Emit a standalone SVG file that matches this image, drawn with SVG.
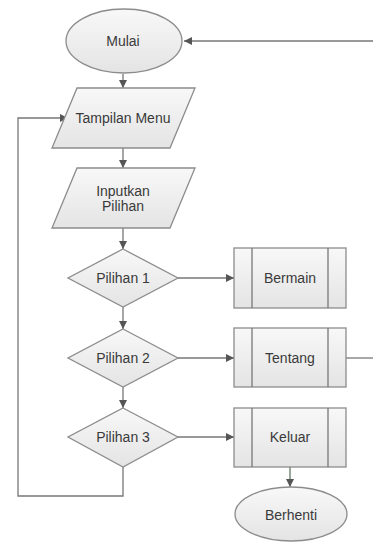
<svg xmlns="http://www.w3.org/2000/svg" width="373" height="542" viewBox="0 0 373 542">
<defs>
<linearGradient id="g" x1="0" y1="0" x2="0" y2="1">
<stop offset="0" stop-color="#f8f8f8"/>
<stop offset="1" stop-color="#e4e4e4"/>
</linearGradient>
<marker id="arr" viewBox="0 0 10 10" refX="10" refY="5" markerWidth="8" markerHeight="8" markerUnits="userSpaceOnUse" orient="auto">
<path d="M0,0 L10,5 L0,10 z" fill="#555"/>
</marker>
</defs>
<style>
.s{fill:url(#g);stroke:#8c8c8c;stroke-width:1.3}
.t{font-family:"Liberation Sans",Arial,sans-serif;font-size:14px;fill:#3a3a3a;text-anchor:middle;dominant-baseline:central}
.c{fill:none;stroke:#777;stroke-width:1.3}
.ca{fill:none;stroke:#777;stroke-width:1.3;marker-end:url(#arr)}
</style>
<rect width="373" height="542" fill="#fff"/>
<g id="connectors">
<path class="ca" d="M373,41 L184,41"/>
<path class="ca" d="M123,74 L123,88"/>
<path class="ca" d="M123,148 L123,168"/>
<path class="ca" d="M123,228 L123,249"/>
<path class="ca" d="M178,278 L234,278"/>
<path class="ca" d="M123,307 L123,329"/>
<path class="ca" d="M178,358 L234,358"/>
<path class="c" d="M346,358 L373,358"/>
<path class="ca" d="M123,387 L123,408"/>
<path class="ca" d="M178,437 L234,437"/>
<path class="ca" d="M123,467 L123,496 L18,496 L18,118 L68,118"/>
<path class="ca" d="M290,467 L290,487" style="stroke:#5f7a63"/>
</g>
<g id="mulai">
<ellipse class="s" cx="124" cy="41" rx="58" ry="32"/>
<text class="t" x="123" y="41">Mulai</text>
</g>
<g id="tampilan-menu">
<polygon class="s" points="77,88 195,88 170,148 52,148"/>
<text class="t" x="123" y="118">Tampilan Menu</text>
</g>
<g id="inputkan-pilihan">
<polygon class="s" points="77,168 195,168 170,228 52,228"/>
<text class="t" x="123" y="191">Inputkan</text>
<text class="t" x="123" y="206">Pilihan</text>
</g>
<g id="pilihan1">
<polygon class="s" points="123,249 178,278 123,307 68,278"/>
<text class="t" x="123" y="278">Pilihan 1</text>
</g>
<g id="pilihan2">
<polygon class="s" points="123,329 178,358 123,387 68,358"/>
<text class="t" x="123" y="358">Pilihan 2</text>
</g>
<g id="pilihan3">
<polygon class="s" points="123,408 178,437 123,467 68,437"/>
<text class="t" x="123" y="437">Pilihan 3</text>
</g>
<g id="bermain">
<rect class="s" x="234" y="248" width="112" height="60"/>
<line class="c" x1="252" y1="248" x2="252" y2="308"/>
<line class="c" x1="328" y1="248" x2="328" y2="308"/>
<text class="t" x="290" y="278">Bermain</text>
</g>
<g id="tentang">
<rect class="s" x="234" y="328" width="112" height="59"/>
<line class="c" x1="252" y1="328" x2="252" y2="387"/>
<line class="c" x1="328" y1="328" x2="328" y2="387"/>
<text class="t" x="290" y="358">Tentang</text>
</g>
<g id="keluar">
<rect class="s" x="234" y="408" width="112" height="59"/>
<line class="c" x1="252" y1="408" x2="252" y2="467"/>
<line class="c" x1="328" y1="408" x2="328" y2="467"/>
<text class="t" x="290" y="437">Keluar</text>
</g>
<g id="berhenti">
<ellipse class="s" cx="291" cy="514" rx="56" ry="27"/>
<text class="t" x="291" y="515">Berhenti</text>
</g>
</svg>
